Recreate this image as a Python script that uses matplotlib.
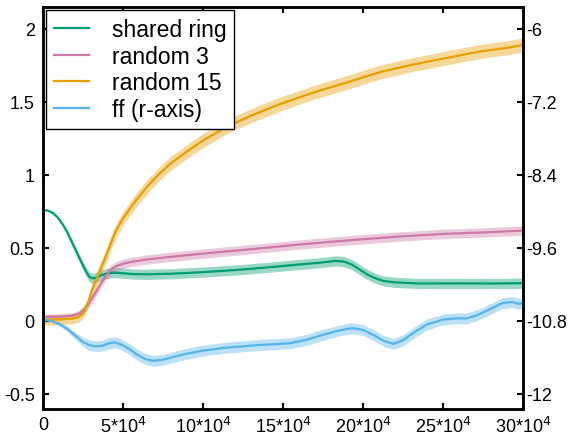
import matplotlib
matplotlib.use('Agg')
import matplotlib.pyplot as plt
import numpy as np

plt.rcParams['font.family'] = ['Liberation Sans', 'DejaVu Sans']

# shared ring (left axis)
ring_x   = [0, 3e3, 6e3, 9e3, 12e3, 15e3, 18e3, 21e3, 24e3, 27e3, 29e3, 31e3, 33e3, 36e3, 40e3,
            45e3, 50e3, 56e3, 65e3, 80e3, 100e3, 120e3, 140e3, 160e3, 175e3, 183e3, 188e3,
            193e3, 198e3, 203e3, 208e3, 213e3, 220e3, 235e3, 260e3, 280e3, 300e3]
ring_y   = [0.76, 0.755, 0.74, 0.71, 0.665, 0.61, 0.54, 0.47, 0.40, 0.335, 0.30, 0.29, 0.295,
            0.31, 0.325, 0.33, 0.325, 0.32, 0.318, 0.322, 0.333, 0.347, 0.365, 0.385, 0.40,
            0.41, 0.405, 0.385, 0.35, 0.315, 0.29, 0.272, 0.263, 0.255, 0.256, 0.255, 0.257]
ring_err = [0.004, 0.006, 0.008, 0.01, 0.013, 0.016, 0.02, 0.024, 0.028, 0.032] + [0.035] * 27

# random 3 (left axis)
r3_x   = [0, 10e3, 18e3, 22e3, 25e3, 28e3, 31e3, 34e3, 37e3, 40e3, 43e3, 46e3, 50e3, 56e3,
          65e3, 80e3, 100e3, 130e3, 160e3, 190e3, 220e3, 250e3, 275e3, 300e3]
r3_y   = [0.025, 0.027, 0.033, 0.045, 0.07, 0.11, 0.16, 0.215, 0.27, 0.32, 0.355, 0.375,
          0.39, 0.405, 0.42, 0.438, 0.46, 0.49, 0.522, 0.55, 0.575, 0.595, 0.605, 0.618]
r3_err = [0.02, 0.02, 0.022, 0.024, 0.026, 0.028] + [0.032] * 18

# random 15 (left axis)
r15_x   = [0, 10e3, 18e3, 22e3, 25e3, 28e3, 31e3, 34e3, 37e3, 40e3, 43e3, 46e3, 50e3, 55e3,
           60e3, 66e3, 73e3, 80e3, 90e3, 100e3, 115e3, 130e3, 148e3, 169e3, 190e3, 211e3,
           231e3, 252e3, 273e3, 290e3, 300e3]
r15_y   = [0.005, 0.008, 0.014, 0.022, 0.05, 0.12, 0.22, 0.30, 0.38, 0.46, 0.55, 0.625, 0.70,
           0.78, 0.85, 0.93, 1.01, 1.08, 1.16, 1.235, 1.33, 1.405, 1.484, 1.564, 1.633, 1.705,
           1.755, 1.80, 1.845, 1.87, 1.89]
r15_err = [0.035] * 6 + [0.048] * 25

# ff (right axis)
ff_x   = [0, 5e3, 10e3, 15e3, 20e3, 25e3, 29e3, 33e3, 37e3, 41e3, 45e3, 49e3, 54e3, 59e3,
          64e3, 69e3, 75e3, 82e3, 90e3, 100e3, 115e3, 134e3, 154e3, 165e3, 175e3, 185e3,
          193e3, 200e3, 207e3, 213e3, 219e3, 225e3, 232e3, 240e3, 250e3, 258e3, 265e3,
          272e3, 280e3, 287e3, 293e3, 297e3, 300e3]
ff_y   = [-10.78, -10.80, -10.85, -10.93, -11.04, -11.15, -11.20, -11.22, -11.21, -11.17,
          -11.155, -11.19, -11.265, -11.36, -11.43, -11.458, -11.44, -11.39, -11.34, -11.29,
          -11.24, -11.20, -11.17, -11.11, -11.03, -10.96, -10.92, -10.95, -11.04, -11.13,
          -11.18, -11.12, -10.99, -10.86, -10.78, -10.76, -10.76, -10.70, -10.60, -10.51,
          -10.49, -10.52, -10.51]
ff_err = [0.005, 0.015, 0.03, 0.045, 0.06, 0.075] + [0.09] * 37

GREEN  = '#009E73'
PINK   = '#CC79A7'
ORANGE = '#E69F00'
BLUE   = '#56B4E9'

fig = plt.figure(figsize=(5.69, 4.39), dpi=100)
ax = fig.add_axes([43 / 569, 1 - 410 / 439, 480 / 569, 402 / 439])
ax2 = ax.twinx()


def draw(a, x, y, err, color, label):
    x = np.array(x)
    y = np.array(y)
    err = np.array(err)
    a.fill_between(x, y - err, y + err, color=color, alpha=0.4, lw=0)
    line, = a.plot(x, y, color=color, lw=1.6, label=label)
    return line


handles = [
    draw(ax, ring_x, ring_y, ring_err, GREEN, 'shared ring'),
    draw(ax, r3_x, r3_y, r3_err, PINK, 'random 3'),
    draw(ax, r15_x, r15_y, r15_err, ORANGE, 'random 15'),
    draw(ax2, ff_x, ff_y, ff_err, BLUE, 'ff (r-axis)'),
]

ax.set_xlim(0, 300e3)
ax.set_ylim(-0.605, 2.15)
ax2.set_ylim(-12.25, -5.64)

xticks = [0, 5e4, 10e4, 15e4, 20e4, 25e4, 30e4]
xlabels = ['0', '5*10$^4$', '10*10$^4$', '15*10$^4$', '20*10$^4$', '25*10$^4$', '30*10$^4$']
ax.set_xticks(xticks)
ax.set_xticklabels(xlabels)

ax.set_yticks([-0.5, 0, 0.5, 1, 1.5, 2])
ax.set_yticklabels(['-0.5', '0', '0.5', '1', '1.5', '2'])
ax2.set_yticks([-12, -10.8, -9.6, -8.4, -7.2, -6])
ax2.set_yticklabels(['-12', '-10.8', '-9.6', '-8.4', '-7.2', '-6'])

ax.tick_params(axis='x', direction='in', length=4, width=1.5, labelsize=13, pad=5, top=True)
ax.tick_params(axis='y', direction='in', length=4, width=1.5, labelsize=13, pad=6)
ax2.tick_params(axis='y', direction='in', length=4, width=1.5, labelsize=13, pad=2)

for a in (ax, ax2):
    for s in a.spines.values():
        s.set_linewidth(1.8)

leg = ax2.legend(handles=handles, loc='upper left', fontsize=16.5, frameon=True, fancybox=False,
                 edgecolor='black', framealpha=1, borderaxespad=0.15, handlelength=1.5,
                 labelspacing=0.15, borderpad=0.35, handletextpad=1.0)
leg.get_frame().set_linewidth(1.0)

fig.savefig('out.png', dpi=100)
